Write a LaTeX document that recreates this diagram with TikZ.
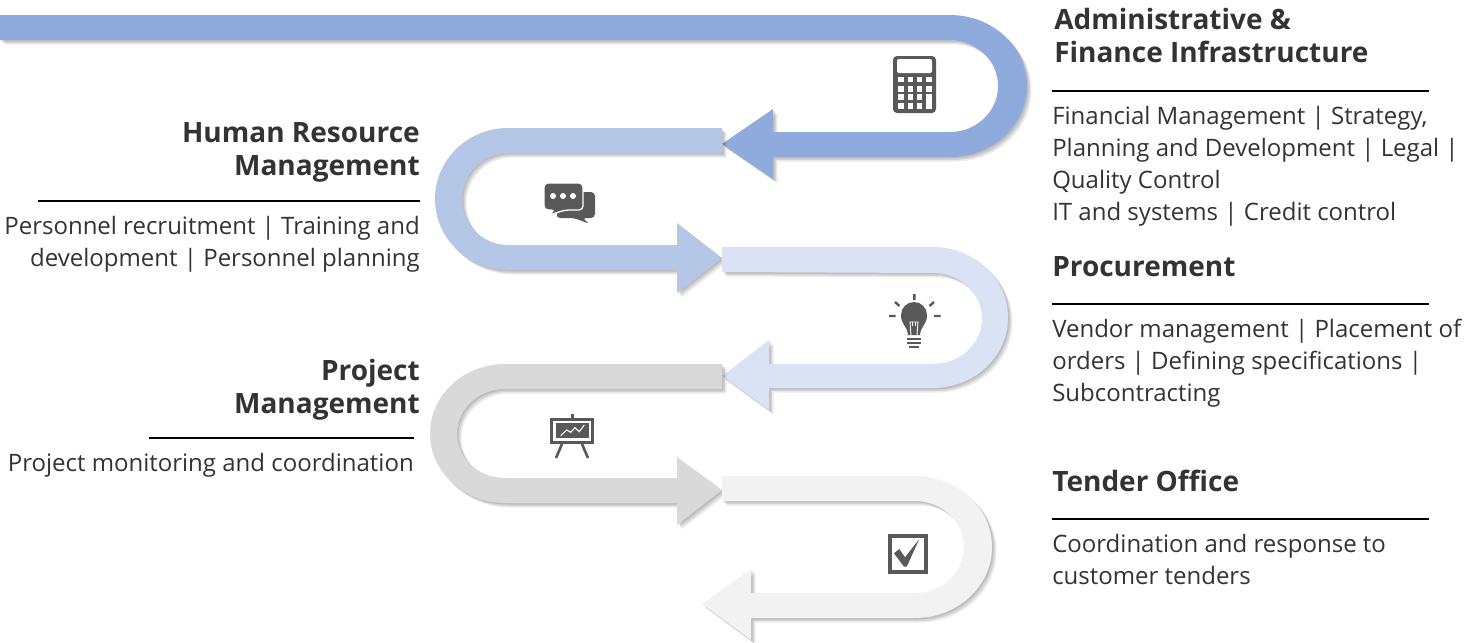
\documentclass[tikz,border=0pt]{standalone}
\usepackage{fontspec}
\setmainfont{Open Sans}
\usetikzlibrary{positioning}
\definecolor{bandA}{HTML}{8FAADC}
\definecolor{bandB}{HTML}{B4C7E7}
\definecolor{bandC}{HTML}{DAE3F3}
\definecolor{bandD}{HTML}{D9D9D9}
\definecolor{bandE}{HTML}{F2F2F2}
\definecolor{icon}{HTML}{595959}
\definecolor{ink}{HTML}{333333}
\tikzset{
  x=0.75pt, y=-0.75pt,
  softshadow/.style={
    preaction={fill=black, fill opacity=.10, transform canvas={shift={(1.5,1.5)}}},
    preaction={fill=black, fill opacity=.10, transform canvas={shift={(3,3)}}},
    preaction={fill=black, fill opacity=.08, transform canvas={shift={(4.5,4.5)}}},
  },
  heading/.style={inner sep=0pt, text=ink, font=\fontsize{21}{25}\selectfont\bfseries},
  body/.style={inner sep=0pt, text=ink, font=\fontsize{18}{24}\selectfont},
  rulerline/.style={draw=black, line width=0.9pt},
  iconfill/.style={fill=icon, draw=none},
}
\begin{document}
\begin{tikzpicture}
  \useasboundingbox (0,0) rectangle (1479,643);

  % Bands
  \fill[bandA, softshadow] (0,15) -- (950,15) arc[start angle=-90, end angle=90, x radius=77, y radius=71]
    -- (773,157) -- (773,179) -- (722,144) -- (773,109) -- (773,132) -- (950,132)
    arc[start angle=90, end angle=-90, x radius=48, y radius=46] -- (0,40) -- cycle;
  \fill[bandB, softshadow] (722,128) -- (508,128) arc[start angle=-90, end angle=-270, x radius=73, y radius=71]
    -- (677,270) -- (677,293) -- (722,258) -- (677,223) -- (677,245) -- (508,245)
    arc[start angle=-270, end angle=-90, x radius=46, y radius=46] -- (722,153) -- cycle;
  \fill[bandC, softshadow] (722,247) -- (933,247) arc[start angle=-90, end angle=90, x radius=75, y radius=70.5]
    -- (769,388) -- (769,410) -- (722,376) -- (769,340) -- (769,364) -- (933,364)
    arc[start angle=90, end angle=-90, x radius=49, y radius=45.5] -- (722,272) -- cycle;
  \fill[bandD, softshadow] (722,364) -- (505,364) arc[start angle=-90, end angle=-270, x radius=75, y radius=69.5]
    -- (677,503) -- (677,525) -- (722,490) -- (677,457) -- (677,478) -- (505,478)
    arc[start angle=-270, end angle=-90, x radius=48, y radius=44.5] -- (722,389) -- cycle;
  \fill[bandE, softshadow] (722,476) -- (915,476) arc[start angle=-90, end angle=90, x radius=77, y radius=71]
    -- (751,618) -- (751,640) -- (702,604) -- (751,569) -- (751,593) -- (915,593)
    arc[start angle=90, end angle=-90, x radius=49, y radius=46] -- (722,501) -- cycle;

  % Right column
  \node[heading, anchor=north west, align=left] (admin) at (1054,8) {Administrative \&\\Finance Infrastructure};
  \coordinate (adminL) at (1052,91);
  \coordinate (adminR) at (1429,91);
  \draw[rulerline] (adminL) -- (adminR);
  \node[body, align=left, below right=11pt and 0pt of adminL] (adminText) {Financial Management | Strategy,\\Planning and Development | Legal |\\Quality Control\\IT and systems | Credit control};
  \node[heading, anchor=north west] (proc) at (1052,256) {Procurement};
  \coordinate (procL) at (1052,304);
  \coordinate (procR) at (1429,304);
  \draw[rulerline] (procL) -- (procR);
  \node[body, align=left, below right=11pt and 0pt of procL] (procText) {Vendor management | Placement of\\orders | Defining specifications |\\Subcontracting};
  \node[heading, anchor=north west] (tender) at (1052,470) {Tender Office};
  \coordinate (tenderL) at (1052,519);
  \coordinate (tenderR) at (1429,519);
  \draw[rulerline] (tenderL) -- (tenderR);
  \node[body, align=left, below right=11pt and 0pt of tenderL] (tenderText) {Coordination and response to\\customer tenders};

  % Left column
  \node[heading, anchor=north east, align=right] (hr) at (420,122) {Human Resource\\Management};
  \coordinate (hrL) at (38,201);
  \coordinate (hrR) at (420,201);
  \draw[rulerline] (hrL) -- (hrR);
  \node[body, align=right, below left=11pt and 0pt of hrR] (hrText) {Personnel recruitment | Training and\\development | Personnel planning};
  \node[heading, anchor=north east, align=right] (pm) at (420,359) {Project\\Management};
  \coordinate (pmL) at (149,438);
  \coordinate (pmR) at (414,438);
  \draw[rulerline] (pmL) -- (pmR);
  \node[body, anchor=north east, below left=11pt and 0pt of pmR] (pmText) {Project monitoring and coordination};

  % Calculator
  \fill[icon, rounded corners=3] (893,56) rectangle (936,113);
  \fill[white, rounded corners=1.5] (897,59) rectangle (932,73);
  \foreach \kx in {898,907.5,916.5,926}
    \foreach \ky in {76.7,86,94.3,103}
      \fill[white] (\kx,\ky) rectangle ++(5.5,5.7);
  \fill[white] (926,94.3) rectangle (931.5,108.7);

  % Chat bubbles
  \fill[icon, rounded corners=3] (562,192) -- (595,192) -- (595,218) -- (582,218) -- (590,224) -- (574,218) -- (556,218) -- cycle;
  \fill[icon, draw=white, line width=1pt, rounded corners=3] (544,183) -- (583,183) -- (583,210) -- (565,210) -- (547,216) -- (555,210) -- (544,210) -- cycle;
  \foreach \dx in {553,563,573}
    \fill[white] (\dx,196) circle[radius=3];

  % Bulb
  \fill[icon] (908,335) .. controls (907,325) and (901,325) .. (901,315) arc[start angle=180, end angle=360, radius=13] .. controls (927,325) and (921,325) .. (920,335) -- cycle;
  \draw[white, line width=0.7pt] (911,335) -- (910,322) -- (918,322) -- (917,335);
  \draw[white, line width=0.7pt] (912.5,322) -- (912.5,326) (915.5,322) -- (915.5,326);
  \foreach \by/\bw in {337.5/7,341.5/7,345.5/5}
    \fill[icon] (914-\bw,\by) rectangle (914+\bw,\by+2.5);
  \draw[icon, line width=1.8pt]
    (914.3,294) -- (914.3,300)
    (889,316) -- (895.5,316)
    (934,316) -- (940.5,316)
    (895,302) -- (899.5,306)
    (934,302) -- (929.5,306);

  % Easel
  \fill[icon] (570.5,413.5) rectangle (573.5,418);
  \fill[icon] (550,418) rectangle (594,444);
  \fill[white] (553,420.5) rectangle (591,441);
  \fill[icon] (556,423) rectangle (589,438);
  \draw[white, line width=0.8pt] (560.7,435.7) -- (566.7,430) -- (570.7,432.3) -- (575,427.7) -- (579.3,431.7) -- (584.3,425);
  \draw[icon, line width=2pt] (562,444) -- (556,458) (582,444) -- (588,458);

  % Checkbox
  \draw[icon, line width=3pt] (890,535.5) rectangle (926,571.5);
  \fill[icon] (894,553.3) -- (899.3,549) -- (905,557.3) -- (919.3,539) -- (906.7,566.7) -- (904,566.7) -- cycle;
\end{tikzpicture}
\end{document}
